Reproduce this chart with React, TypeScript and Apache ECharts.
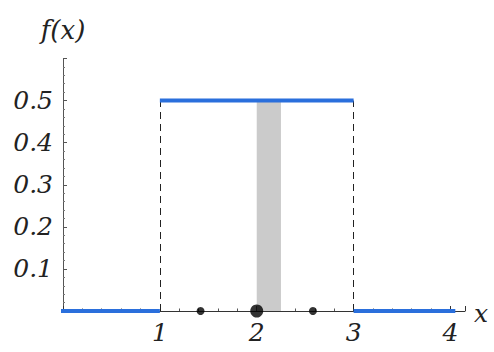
import React, { useEffect, useRef } from "react";
import * as echarts from "echarts";

// Uniform density on [1, 3]: f(x) = 0.5 inside, 0 outside
const lowerBound = 1;
const upperBound = 3;
const density = 0.5;
const leftTail: [number, number][] = [[-0.07, 0], [1, 0]];
const plateau: [number, number][] = [[1, 0.5], [3, 0.5]];
const rightTail: [number, number][] = [[3, 0], [4.05, 0]];
// Shaded strip under the density
const stripFrom = 2;
const stripTo = 2.25;
// Mean and mean ± one standard deviation (σ = 1/√3)
const meanPoint: [number, number][] = [[2, 0]];
const sigmaPoints: [number, number][] = [[1.42, 0], [2.58, 0]];
// Tick labels shown on the axes
const xTickLabels = ["1", "2", "3", "4"];
const yTickLabels = ["0.1", "0.2", "0.3", "0.4", "0.5"];

const BLUE = "#2a6fdc";
const SERIF = "DejaVu Serif";

export default function App() {
  const ref = useRef<HTMLDivElement>(null);

  useEffect(() => {
    if (!ref.current) return;
    const chart = echarts.init(ref.current, undefined, { renderer: "svg" });

    const fmt = (v: number, list: string[]) => {
      const s = String(Math.round(v * 100) / 100);
      return list.includes(s) ? s : "";
    };

    const labelText = {
      fontFamily: SERIF,
      fontStyle: "italic",
      fontSize: 25,
      color: "#222",
    };

    chart.setOption({
      animation: false,
      grid: { left: 63, right: 29, top: 58.5, bottom: 41, containLabel: false },
      xAxis: {
        type: "value",
        min: 0,
        max: 4.15,
        interval: 1,
        name: "x",
        nameLocation: "end",
        nameGap: 9,
        nameTextStyle: { ...labelText, fontSize: 25, verticalAlign: "top", lineHeight: 25, padding: [-10, 0, 0, 0] },
        axisLine: { show: true, onZero: true, lineStyle: { color: "#333", width: 1 } },
        axisTick: { show: true, inside: true, length: 5, lineStyle: { color: "#333" } },
        minorTick: { show: true, splitNumber: 5, length: 2.5, lineStyle: { color: "#555" } },
        splitLine: { show: false },
        axisLabel: {
          ...labelText,
          margin: 9,
          formatter: (v: number) => fmt(v, xTickLabels),
        },
      },
      yAxis: {
        type: "value",
        min: 0,
        max: 0.6,
        interval: 0.1,
        name: "f(x)",
        nameLocation: "end",
        nameGap: 16,
        nameTextStyle: { ...labelText, fontSize: 26, align: "center" },
        axisLine: { show: true, lineStyle: { color: "#555", width: 1 } },
        axisTick: { show: true, inside: true, length: 4, lineStyle: { color: "#555" } },
        minorTick: { show: true, splitNumber: 5, length: 2, lineStyle: { color: "#777" } },
        splitLine: { show: false },
        axisLabel: {
          ...labelText,
          margin: 10,
          formatter: (v: number) => fmt(v, yTickLabels),
        },
      },
      series: [
        {
          type: "line",
          data: [],
          silent: true,
          markArea: {
            silent: true,
            itemStyle: { color: "#cbcbcb" },
            data: [[{ coord: [stripFrom, 0] }, { coord: [stripTo, density] }]],
          },
          markLine: {
            silent: true,
            symbol: "none",
            label: { show: false },
            lineStyle: { color: "#222", width: 1, type: [7, 5] },
            data: [
              [{ coord: [lowerBound, 0] }, { coord: [lowerBound, density] }],
              [{ coord: [upperBound, 0] }, { coord: [upperBound, density] }],
            ],
          },
        },
        ...[leftTail, plateau, rightTail].map((d) => ({
          type: "line",
          data: d,
          clip: false,
          symbol: "none",
          lineStyle: { color: BLUE, width: 4 },
          z: 5,
        })),
        {
          type: "scatter",
          data: meanPoint,
          symbolSize: 13,
          itemStyle: { color: "#000" },
          z: 6,
        },
        {
          type: "scatter",
          data: sigmaPoints,
          symbolSize: 8,
          itemStyle: { color: "#000" },
          z: 6,
        },
      ],
    });

    return () => chart.dispose();
  }, []);

  return (
    <div
      ref={ref}
      style={{ position: "absolute", left: 0, top: 0, width: 494, height: 352, background: "#fff" }}
    />
  );
}
